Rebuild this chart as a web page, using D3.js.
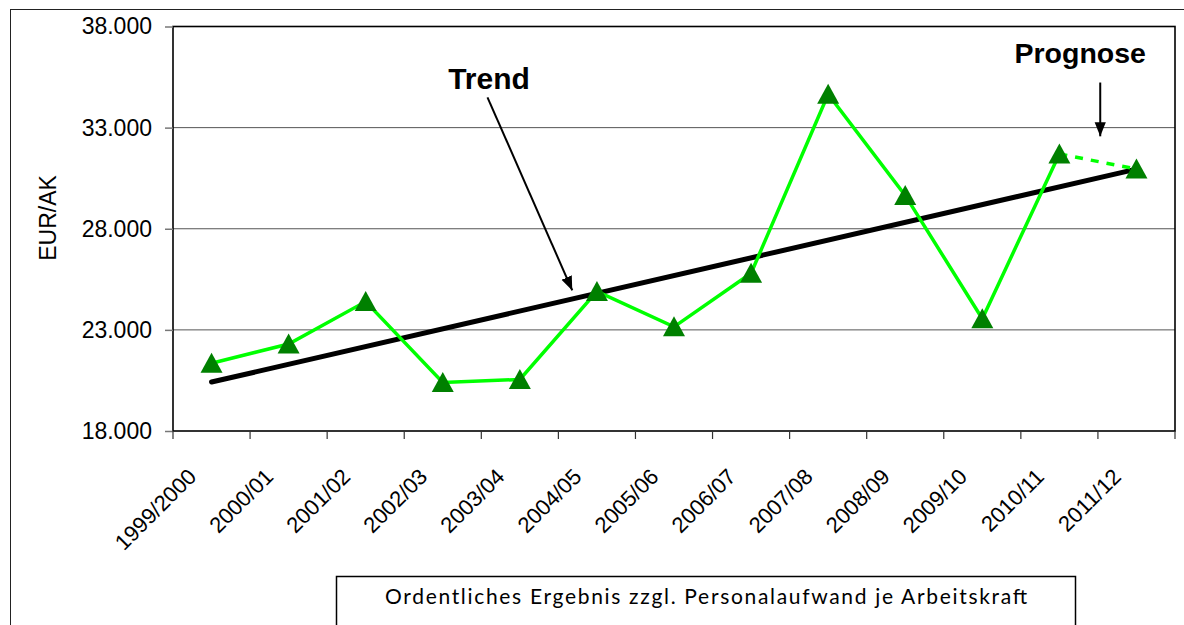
<!DOCTYPE html>
<html>
<head>
<meta charset="utf-8">
<script src="https://cdn.jsdelivr.net/npm/d3@7/dist/d3.min.js"></script>
<style>
  body { margin: 0; background: #fff; }
  svg { display: block; }
</style>
</head>
<body>
<div id="chart"></div>
<script>
// data
const seasons = ["1999/2000", "2000/01", "2001/02", "2002/03", "2003/04", "2004/05", "2005/06",
                 "2006/07", "2007/08", "2008/09", "2009/10", "2010/11", "2011/12"];
const income = [21350, 22300, 24400, 20400, 20550, 24900, 23150, 25800, 34650, 29650, 23550, 31700, 30950];
const forecastFrom = 11;               // last segment (2010/11 -> 2011/12) is the forecast
const trendEnds = [20420, 30950];       // linear trend, first and last season
const yTicks = [18000, 23000, 28000, 33000, 38000];
const legendLabel = "Ordentliches Ergebnis zzgl. Personalaufwand je Arbeitskraft";

const W = 1184, H = 625;
const margin = {top: 26.5, right: 9, bottom: 194, left: 173};
const width = W - margin.left - margin.right,
      height = H - margin.top - margin.bottom;

const de = d3.formatLocale({decimal: ",", thousands: ".", grouping: [3], currency: ["", " €"]});
const fmt = de.format(",.0f");
const arial = "Liberation Sans, Arial, sans-serif";

const svg = d3.select("#chart").append("svg")
    .attr("width", W)
    .attr("height", H);

// outer chart border
svg.append("rect")
    .attr("x", 10.5).attr("y", 9.5)
    .attr("width", W + 20).attr("height", H + 20)
    .attr("fill", "none")
    .attr("stroke", "#222")
    .attr("stroke-width", 1);

const g = svg.append("g")
    .attr("transform", "translate(" + margin.left + "," + margin.top + ")");

const x = d3.scaleBand().domain(seasons).range([0, width]);
const xi = d3.scaleLinear().domain([-0.5, seasons.length - 0.5]).range([0, width]);
const y = d3.scaleLinear().domain([18000, 38000]).range([height, 0]);

// grid lines
g.append("g")
    .selectAll("line")
    .data(yTicks.slice(1, -1))
    .join("line")
    .attr("x1", 0).attr("x2", width)
    .attr("y1", d => y(d)).attr("y2", d => y(d))
    .attr("stroke", "#555")
    .attr("stroke-width", 1);

// plot frame
g.append("rect")
    .attr("width", width).attr("height", height)
    .attr("fill", "none")
    .attr("stroke", "#000")
    .attr("stroke-width", 1.6);

// y axis
const yAxis = g.append("g")
    .call(d3.axisLeft(y).tickValues(yTicks).tickSize(8).tickPadding(13).tickFormat(fmt));
yAxis.select(".domain").remove();
yAxis.selectAll(".tick line").attr("stroke", "#777").attr("stroke-width", 1.5);
yAxis.selectAll("text")
    .attr("font-family", arial)
    .attr("font-size", 23)
    .attr("fill", "#000");

// x axis ticks between categories
g.append("g")
    .selectAll("line")
    .data(d3.range(seasons.length + 1))
    .join("line")
    .attr("x1", d => xi(d - 0.5)).attr("x2", d => xi(d - 0.5))
    .attr("y1", height).attr("y2", height + 8)
    .attr("stroke", "#333")
    .attr("stroke-width", 1.2);

// x labels rotated
g.append("g")
    .selectAll("text")
    .data(seasons)
    .join("text")
    .attr("text-anchor", "end")
    .attr("font-family", arial)
    .attr("font-size", 22)
    .attr("transform", d => "translate(" + (x(d) + x.bandwidth() / 2 - 14) + "," + (height + 47) + ") rotate(-45)")
    .text(d => d);

// y axis title
svg.append("text")
    .attr("transform", "translate(50,218) rotate(-90)")
    .attr("text-anchor", "middle")
    .attr("dominant-baseline", "middle")
    .attr("font-family", arial)
    .attr("font-size", 23)
    .text("EUR/AK");

// trend line
g.append("line")
    .attr("x1", xi(0)).attr("y1", y(trendEnds[0]))
    .attr("x2", xi(seasons.length - 1)).attr("y2", y(trendEnds[1]))
    .attr("stroke", "#000")
    .attr("stroke-width", 5)
    .attr("stroke-linecap", "round");

// series line, solid part and dashed forecast
const line = d3.line().x(d => xi(d[0])).y(d => y(d[1]));
const pts = income.map((v, i) => [i, v]);
g.append("path")
    .attr("d", line(pts.slice(0, forecastFrom + 1)))
    .attr("fill", "none")
    .attr("stroke", "#00ff00")
    .attr("stroke-width", 3.5);
g.append("path")
    .attr("d", line(pts.slice(forecastFrom)))
    .attr("fill", "none")
    .attr("stroke", "#00ff00")
    .attr("stroke-width", 3.5)
    .attr("stroke-dasharray", "8 8");

// triangle markers
g.append("g")
    .selectAll("path")
    .data(pts)
    .join("path")
    .attr("transform", d => "translate(" + xi(d[0]) + "," + y(d[1]) + ")")
    .attr("d", "M0,-10.5L11,9.5L-11,9.5Z")
    .attr("fill", "#008000");

// arrow head
svg.append("defs").append("marker")
    .attr("id", "arrow")
    .attr("viewBox", "0 0 10 10")
    .attr("refX", 10).attr("refY", 5)
    .attr("markerWidth", 7).attr("markerHeight", 7)
    .attr("orient", "auto")
    .append("path")
    .attr("d", "M0,1L10,5L0,9Z")
    .attr("fill", "#000");

// annotations
g.append("text")
    .attr("x", xi(3.6)).attr("y", y(34900))
    .attr("text-anchor", "middle")
    .attr("font-family", arial)
    .attr("font-weight", "bold")
    .attr("font-size", 30)
    .text("Trend");
g.append("line")
    .attr("x1", xi(3.58)).attr("y1", y(34500))
    .attr("x2", xi(4.68)).attr("y2", y(24950))
    .attr("stroke", "#000")
    .attr("stroke-width", 2)
    .attr("marker-end", "url(#arrow)");

g.append("text")
    .attr("x", xi(11.27)).attr("y", y(36200))
    .attr("text-anchor", "middle")
    .attr("font-family", arial)
    .attr("font-weight", "bold")
    .attr("font-size", 28.5)
    .text("Prognose");
g.append("line")
    .attr("x1", xi(11.53)).attr("y1", y(35230))
    .attr("x2", xi(11.53)).attr("y2", y(32570))
    .attr("stroke", "#000")
    .attr("stroke-width", 2)
    .attr("marker-end", "url(#arrow)");

// legend box
svg.append("rect")
    .attr("x", 336.5).attr("y", 576.5)
    .attr("width", 739).attr("height", 80)
    .attr("fill", "#fff")
    .attr("stroke", "#000")
    .attr("stroke-width", 1.5);
svg.append("text")
    .attr("x", 706).attr("y", 604)
    .attr("text-anchor", "middle")
    .attr("font-family", "Lato, Open Sans, sans-serif")
    .attr("font-size", 21)
    .attr("textLength", 642)
    .attr("lengthAdjust", "spacing")
    .text(legendLabel);
</script>
</body>
</html>
